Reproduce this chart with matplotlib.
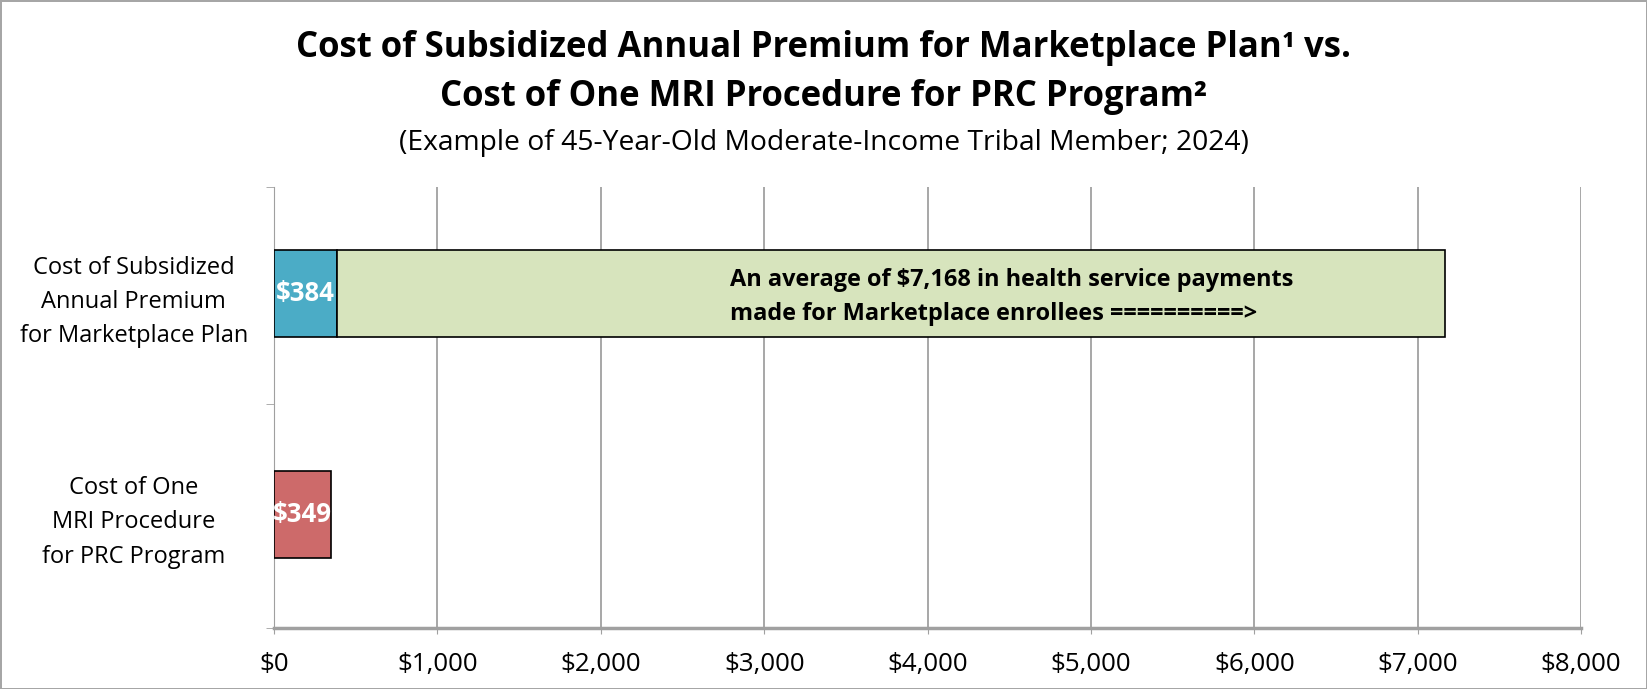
import matplotlib.pyplot as plt
from matplotlib.ticker import FuncFormatter

categories = ['Cost of One\nMRI Procedure\nfor PRC Program',
              'Cost of Subsidized\nAnnual Premium\nfor Marketplace Plan']
premium = 384
health_payments = 7168
mri_cost = 349
note = ('An average of $7,168 in health service payments\n'
        'made for Marketplace enrollees ==========>')

plt.rcParams['font.family'] = ['Open Sans', 'DejaVu Sans']

fig = plt.figure(figsize=(16.47, 6.89), dpi=100)
fig.patch.set_edgecolor('#a6a6a6')
fig.patch.set_linewidth(2)
ax = fig.add_axes([0.1664, 0.0885, 0.7936, 0.6401])

h = 0.395
ax.barh(1, premium, height=h, color='#4bacc6', edgecolor='black', linewidth=1.2, zorder=3)
ax.barh(1, health_payments - premium, left=premium, height=h, color='#d7e4bd',
        edgecolor='black', linewidth=1.2, zorder=3)
ax.barh(0, mri_cost, height=h, color='#cd6a6a', edgecolor='black', linewidth=1.2, zorder=3)

ax.text(premium / 2, 1, f'${premium}', color='white', fontweight='bold', fontsize=18.5,
        ha='center', va='center', zorder=4)
ax.text(mri_cost / 2, 0, f'${mri_cost}', color='white', fontweight='bold', fontsize=18.5,
        ha='center', va='center', zorder=4)
ax.text(2790, 0.985, note, fontweight='bold', fontsize=16.9, ha='left', va='center',
        linespacing=1.53, zorder=4)

ax.set_xlim(0, 8000)
ax.set_ylim(-0.515, 1.485)
ax.set_xticks(range(0, 8001, 1000))
ax.xaxis.set_major_formatter(FuncFormatter(lambda v, p: f'${v:,.0f}'))
ax.set_yticks([0, 1])
ax.set_yticklabels(categories, ha='center', linespacing=1.56)
ax.tick_params(axis='y', length=0, pad=101, labelsize=17)
ax.set_yticks([-0.515, 0.5, 1.485], minor=True)
ax.tick_params(axis='y', which='minor', length=6, color='#a0a0a0')
ax.tick_params(axis='x', length=4.5, color='#a0a0a0', labelsize=18.6, pad=12.5)

ax.grid(axis='x', color='#a0a0a0', linewidth=1.3, zorder=0)
for s in ['top', 'right']:
    ax.spines[s].set_visible(False)
ax.spines['left'].set_color('#a0a0a0')
ax.spines['bottom'].set_color('#a0a0a0')
ax.spines['bottom'].set_linewidth(2.5)

fig.text(0.5, 0.931, 'Cost of Subsidized Annual Premium for Marketplace Plan¹ vs.',
         ha='center', va='center', fontsize=25, fontweight='bold')
fig.text(0.5, 0.859, 'Cost of One MRI Procedure for PRC Program²',
         ha='center', va='center', fontsize=25, fontweight='bold')
fig.text(0.5, 0.792, '(Example of 45-Year-Old Moderate-Income Tribal Member; 2024)',
         ha='center', va='center', fontsize=20.3)

fig.savefig('out.png', dpi=100)
